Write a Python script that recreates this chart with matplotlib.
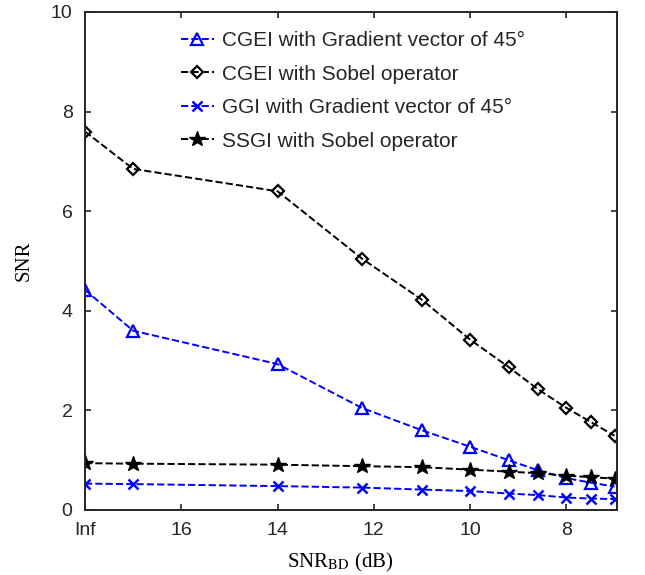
import matplotlib
matplotlib.use("Agg")
import matplotlib.pyplot as plt

x_vals = [18, 17, 14, 12.25, 11, 10, 9.2, 8.6, 8, 7.5, 7]
xtick_pos = [18, 16, 14, 12, 10, 8]
xtick_labels = ["Inf", "16", "14", "12", "10", "8"]
ytick_pos = [0, 2, 4, 6, 8, 10]
ytick_labels = ["0", "2", "4", "6", "8", "10"]

cgei_grad = [4.42, 3.6, 2.93, 2.05, 1.6, 1.27, 1.0, 0.8, 0.64, 0.55, 0.47]
cgei_sobel = [7.6, 6.85, 6.4, 5.05, 4.22, 3.42, 2.87, 2.43, 2.05, 1.77, 1.49]
ggi_grad = [0.53, 0.52, 0.48, 0.45, 0.41, 0.38, 0.33, 0.30, 0.25, 0.23, 0.22]
ssgi_sobel = [0.94, 0.93, 0.91, 0.88, 0.86, 0.81, 0.77, 0.74, 0.69, 0.66, 0.63]

labels = ["CGEI with Gradient vector of 45°",
          "CGEI with Sobel operator",
          "GGI with Gradient vector of 45°",
          "SSGI with Sobel operator"]

plt.rcParams['mathtext.fontset'] = 'stix'
sans = ['Liberation Sans', 'DejaVu Sans']
serif = ['Liberation Serif', 'DejaVu Serif']

fig = plt.figure(figsize=(6.45, 5.75), dpi=100)
ax = fig.add_axes([85/645, 65/575, 532/645, 498/575])

lw = 1.4
ax.plot(x_vals, cgei_grad, '--', color='#0000ff', lw=lw, marker='^', ms=9,
        mfc='none', mec='#0000ff', mew=1.6, label=labels[0])
ax.plot(x_vals, cgei_sobel, '--', color='black', lw=lw, marker='D', ms=6.5,
        mfc='none', mec='black', mew=1.6, label=labels[1])
ax.plot(x_vals, ggi_grad, '--', color='#0000ff', lw=lw, marker='x', ms=6.5,
        mec='#0000ff', mew=1.8, label=labels[2])
ax.plot(x_vals, ssgi_sobel, '--', color='black', lw=lw, marker='*', ms=11.5,
        mfc='black', mec='black', label=labels[3])

ax.set_xlim(18, 6.95)
ax.set_ylim(0, 10)
ax.set_xticks(xtick_pos)
ax.set_xticklabels(xtick_labels, fontfamily=sans, fontsize=14)
ax.set_yticks(ytick_pos)
ax.set_yticklabels(ytick_labels, fontfamily=sans, fontsize=14)
ax.tick_params(direction='in', length=4.5, width=1.2, top=True, right=True,
               color='#262626', labelcolor='#262626')
ax.tick_params(axis='x', pad=8.5)
ax.tick_params(axis='y', pad=9)
for s in ax.spines.values():
    s.set_linewidth(1.4)
    s.set_color('#262626')

ax.set_ylabel("SNR", fontfamily=serif, fontsize=15)
ax.set_xlabel(r"SNR$_{\mathrm{BD}}$ (dB)", fontfamily=serif, fontsize=15)
ax.yaxis.set_label_coords(-0.097, 0.5)
ax.xaxis.set_label_coords(0.48, -0.082)

leg = ax.legend(loc='upper left', bbox_to_anchor=(0.180, 0.962), frameon=False,
                prop={'family': sans, 'size': 15}, handlelength=1.6,
                handletextpad=0.4, labelspacing=0.7, borderaxespad=0,
                borderpad=0)
for t in leg.get_texts():
    t.set_color('#262626')

fig.savefig("out.png", dpi=100)
